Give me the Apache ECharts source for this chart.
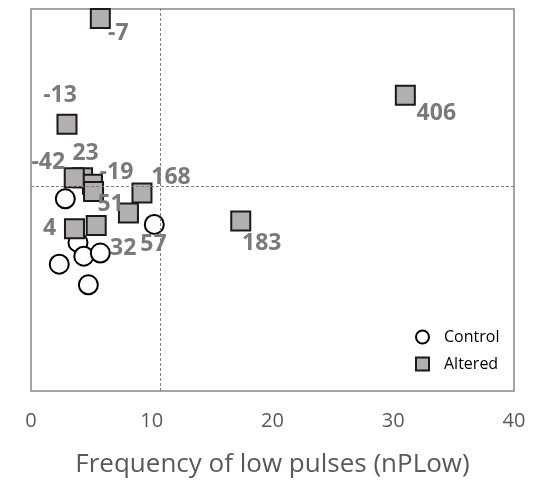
<!DOCTYPE html>
<html>
<head>
<meta charset="utf-8">
<script src="https://cdn.jsdelivr.net/npm/echarts@6/dist/echarts.min.js"></script>
<style>html,body{margin:0;padding:0;background:#fff}#c{width:539px;height:484px}</style>
</head>
<body>
<div id="c"></div>
<script>
// Control group (circles): x = nPLow frequency, y = (unlabelled vertical metric)
var controlX = [2.84, 3.89, 4.37, 5.74, 2.34, 4.75, 10.21];
var controlY = [50.3, 38.9, 35.3, 36.1, 33.2, 27.8, 43.6];

// Altered group (squares) with their point labels
var alteredLabels = ['-7', '-13', '406', '183', '23', '-19', '51', '-42', '4', '32', '168', '57'];
var alteredX = [5.74, 2.98, 31.0, 17.37, 4.27, 5.09, 5.18, 3.58, 3.60, 5.40, 9.19, 8.07];
var alteredY = [97.5, 69.8, 77.4, 44.5, 55.8, 54.1, 52.2, 55.8, 42.5, 43.3, 51.8, 46.6];

// reference lines
var refX = 10.68;
var refY = 53.7;

// x axis ticks
var xTicks = [0, 10, 20, 30, 40];

// label offsets (layout only)
var labelOffsets = [[18,15],[-7,-29],[31,18],[21,22],[3,-24],[24,-12],[17,13],[-26,-15],[-25,0],[27,23],[29,-16],[25,31]];

var controlData = controlX.map(function(x,i){return [x, controlY[i]];});
var alteredData = alteredX.map(function(x,i){
  return {value:[x, alteredY[i]], name: alteredLabels[i],
    label:{offset: labelOffsets[i]}};
});

var chart = echarts.init(document.getElementById('c'), null, {renderer:'canvas'});
chart.setOption({
  animation:false,
  grid:{left:31, right:25, top:9, bottom:93, show:true, borderColor:'#868686', borderWidth:1.5, backgroundColor:'transparent'},
  xAxis:{
    type:'value', min:xTicks[0], max:xTicks[xTicks.length-1], interval:10,
    axisLine:{show:false}, axisTick:{show:false}, splitLine:{show:false},
    axisLabel:{color:'#595959', fontFamily:'Open Sans', fontSize:20, margin:20},
    name:'Frequency of low pulses (nPLow)', nameLocation:'middle', nameGap:61,
    nameTextStyle:{color:'#595959', fontFamily:'Open Sans', fontSize:26}
  },
  yAxis:{
    type:'value', min:0, max:100,
    axisLine:{show:false}, axisTick:{show:false}, splitLine:{show:false}, axisLabel:{show:false}
  },
  legend:{
    orient:'vertical', left:415, top:329, padding:0, itemWidth:13, itemHeight:13, itemGap:11,
    textStyle:{color:'#000', fontFamily:'Open Sans', fontSize:16, lineHeight:16, padding:[0,0,0,10]},
    data:['Control','Altered']
  },
  series:[
    {
      name:'Control', type:'scatter', symbol:'circle', symbolSize:19,
      itemStyle:{color:'#ffffff', borderColor:'#000000', borderWidth:2, opacity:1},
      data:controlData, z:2,
      markLine:{
        silent:true, symbol:['none','none'], label:{show:false},
        lineStyle:{color:'#7f7f7f', type:[3,2], width:1},
        data:[{xAxis:refX},{yAxis:refY}]
      }
    },
    {
      name:'Altered', type:'scatter', symbol:'rect', symbolSize:19,
      itemStyle:{color:'#b3afaf', borderColor:'#1a1a1a', borderWidth:2, opacity:1},
      data:alteredData, z:3,
      label:{show:true, position:'inside', formatter:'{b}', color:'#7a7a7a',
        fontFamily:'Open Sans', fontWeight:'bold', fontSize:23, align:'center', verticalAlign:'middle'}
    }
  ]
});
</script>
</body>
</html>
